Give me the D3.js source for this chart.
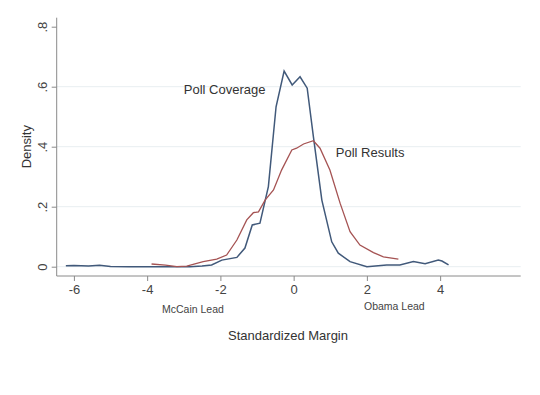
<!DOCTYPE html>
<html>
<head>
<meta charset="utf-8">
<script src="https://cdn.jsdelivr.net/npm/d3@7"></script>
<style>
  body { margin: 0; background: #fff; }
  text { font-family: "Liberation Sans", Arial, sans-serif; }
</style>
</head>
<body>
<script>
const width = 540;
const height = 395;

// Poll Coverage density (blue)
const coverageX = [-6.22, -6.0, -5.6, -5.3, -5.0, -4.5, -4.0, -3.5, -3.0, -2.83, -2.5, -2.24, -1.96, -1.55, -1.33, -1.13, -0.92, -0.69, -0.48, -0.26, -0.04, 0.175, 0.37, 0.54, 0.77, 1.04, 1.22, 1.54, 2.0, 2.54, 2.9, 3.27, 3.59, 3.95, 4.05, 4.23];
const coverageY = [0.003, 0.004, 0.002, 0.005, 0.001, 0.0, 0.0, 0.0, 0.0, 0.0, 0.002, 0.006, 0.022, 0.031, 0.062, 0.139, 0.145, 0.267, 0.533, 0.652, 0.606, 0.633, 0.595, 0.433, 0.222, 0.083, 0.045, 0.017, 0.0, 0.006, 0.006, 0.017, 0.01, 0.022, 0.019, 0.006];

// Poll Results density (red)
const resultsX = [-3.88, -3.5, -3.19, -2.92, -2.47, -2.1, -1.83, -1.55, -1.28, -1.1, -0.96, -0.78, -0.55, -0.33, -0.05, 0.08, 0.27, 0.54, 0.72, 0.99, 1.27, 1.54, 1.81, 2.18, 2.45, 2.86];
const resultsY = [0.009, 0.005, 0.0, 0.002, 0.017, 0.025, 0.039, 0.089, 0.156, 0.18, 0.183, 0.222, 0.256, 0.322, 0.389, 0.395, 0.409, 0.42, 0.395, 0.322, 0.211, 0.117, 0.072, 0.047, 0.033, 0.025];

const xTicks = [-6, -4, -2, 0, 2, 4];
const yTicks = [0, 0.2, 0.4, 0.6, 0.8];
const yTickLabels = ['0', '.2', '.4', '.6', '.8'];
const gridValues = [0, 0.2, 0.4, 0.6];

const svg = d3.select('body')
              .append('svg')
              .attr('width', width)
              .attr('height', height);

const x = d3.scaleLinear().domain([-6.47, 6.2]).range([56.7, 520.7]);
const y = d3.scaleLinear().domain([-0.031, 0.83]).range([276, 17.7]);

// gridlines
svg.selectAll('.grid')
   .data(gridValues)
   .enter().append('line')
   .attr('x1', x.range()[0])
   .attr('x2', x.range()[1])
   .attr('y1', d => y(d))
   .attr('y2', d => y(d))
   .attr('stroke', '#e8eef1')
   .attr('stroke-width', 1);

// y axis
const yAxis = svg.append('g')
   .attr('transform', `translate(${x.range()[0]},0)`)
   .call(d3.axisLeft(y).tickValues(yTicks).tickSize(5).tickFormat((d, i) => yTickLabels[i]));
yAxis.select('.domain').attr('stroke', '#8a8a8a').attr('d', `M0,${y.range()[0]}V${y.range()[1]}`);
yAxis.selectAll('.tick line').attr('stroke', '#8a8a8a');
yAxis.selectAll('.tick text')
     .attr('transform', 'rotate(-90)')
     .attr('x', 0)
     .attr('y', -10)
     .attr('dy', 0)
     .attr('text-anchor', 'middle')
     .attr('fill', '#444')
     .style('font-size', '13px');

// x axis
const xAxis = svg.append('g')
   .attr('transform', `translate(0,${y.range()[0]})`)
   .call(d3.axisBottom(x).tickValues(xTicks).tickSize(5).tickFormat(d => d));
xAxis.select('.domain').attr('stroke', '#8a8a8a').attr('d', `M${x.range()[0]},0H${x.range()[1]}`);
xAxis.selectAll('.tick line').attr('stroke', '#8a8a8a');
xAxis.selectAll('.tick text')
     .attr('y', 9)
     .attr('fill', '#444')
     .style('font-size', '13px');

const line = d3.line().x(d => x(d[0])).y(d => y(d[1]));

svg.append('path')
   .datum(d3.zip(coverageX, coverageY))
   .attr('d', line)
   .attr('fill', 'none')
   .attr('stroke', '#41597a')
   .attr('stroke-width', 1.5);

svg.append('path')
   .datum(d3.zip(resultsX, resultsY))
   .attr('d', line)
   .attr('fill', 'none')
   .attr('stroke', '#a55353')
   .attr('stroke-width', 1.3);

// annotations
svg.append('text')
   .attr('x', x(-3.0)).attr('y', y(0.575))
   .attr('fill', '#333').style('font-size', '13px')
   .text('Poll Coverage');

svg.append('text')
   .attr('x', x(1.15)).attr('y', y(0.365))
   .attr('fill', '#333').style('font-size', '13px')
   .text('Poll Results');

svg.append('text')
   .attr('x', x(-2.75)).attr('y', 313)
   .attr('text-anchor', 'middle')
   .attr('fill', '#444').style('font-size', '10.5px')
   .text('McCain Lead');

svg.append('text')
   .attr('x', x(2.75)).attr('y', 310)
   .attr('text-anchor', 'middle')
   .attr('fill', '#444').style('font-size', '10.5px')
   .text('Obama Lead');

svg.append('text')
   .attr('x', 288).attr('y', 340)
   .attr('text-anchor', 'middle')
   .attr('fill', '#333').style('font-size', '13px')
   .text('Standardized Margin');

svg.append('text')
   .attr('transform', `translate(31,${y(0.4)}) rotate(-90)`)
   .attr('text-anchor', 'middle')
   .attr('fill', '#333').style('font-size', '13px')
   .text('Density');
</script>
</body>
</html>
